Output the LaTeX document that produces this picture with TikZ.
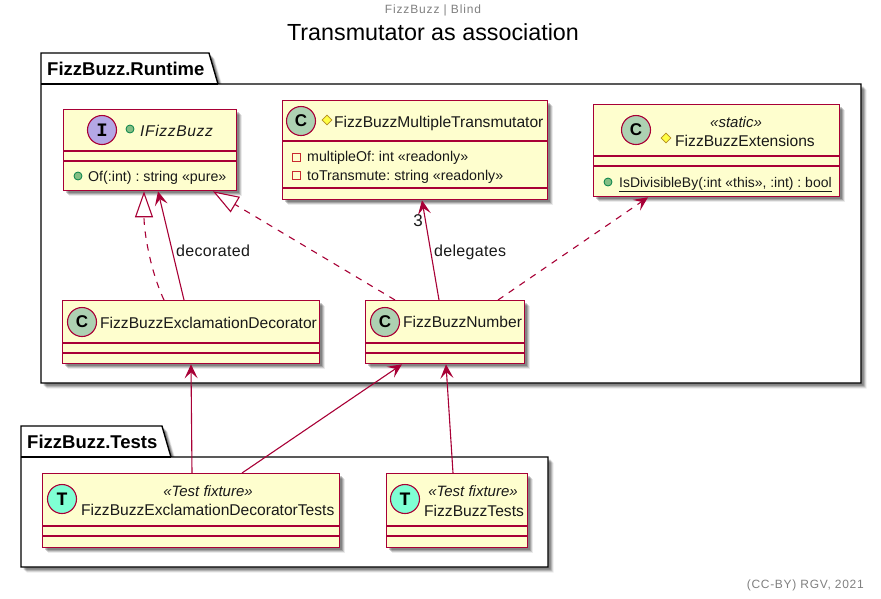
\documentclass[tikz,border=0pt]{standalone}
\usepackage{fontspec}
\setmainfont{Liberation Sans}
\newfontfamily\monof{Liberation Mono}
\usetikzlibrary{arrows.meta,shadows,calc,shapes.geometric}
\definecolor{umlred}{HTML}{A80036}
\definecolor{umlfill}{HTML}{FEFECE}
\definecolor{circC}{HTML}{ADD1B2}
\definecolor{circI}{HTML}{B4A7E5}
\definecolor{circT}{HTML}{7FFFD4}
\definecolor{dotgreen}{HTML}{84BE84}
\definecolor{dotdark}{HTML}{038048}
\definecolor{diamfill}{HTML}{FFFF44}
\definecolor{diamline}{HTML}{B38D22}
\definecolor{privred}{HTML}{C82930}
\frenchspacing
\tikzset{
  softshadow/.style={
    drop shadow={shadow xshift=2.5pt,shadow yshift=-2.5pt,fill=black,opacity=.2},
    drop shadow={shadow xshift=3.5pt,shadow yshift=-3.5pt,fill=black,opacity=.18},
    drop shadow={shadow xshift=4.5pt,shadow yshift=-4.5pt,fill=black,opacity=.14},
    drop shadow={shadow xshift=5.5pt,shadow yshift=-5.5pt,fill=black,opacity=.08}},
  classbox/.style={draw=umlred,fill=umlfill,line width=1.3pt,inner sep=0pt,softshadow},
  sepline/.style={draw=umlred,line width=1.3pt},
  circ/.style={circle,draw=umlred,line width=1.1pt,minimum size=29pt,inner sep=0pt},
  circletter/.style={font=\bfseries\fontsize{17}{17}\selectfont},
  circmono/.style={font=\monof\bfseries\fontsize{19}{19}\selectfont},
  capbox/.style={inner sep=0pt,text height=#1,text depth=0pt},
  txt/.style={capbox=11pt,anchor=west,text=black!90,font=\fontsize{15.6}{17}\selectfont},
  mem/.style={capbox=10pt,anchor=west,text=black!90,font=\fontsize{14.2}{16}\selectfont},
  st/.style={capbox=10pt,text=black!90,font=\itshape\fontsize{15}{17}\selectfont},
  lbl/.style={capbox=11.5pt,text=black!90,font=\fontsize{16}{18}\selectfont\addfontfeature{LetterSpace=2}},
  link/.style={draw=umlred,line width=1.1pt},
  linkd/.style={link,dash pattern=on 6.5pt off 6.5pt},
  opn/.style={-{Stealth[length=14pt,width=13pt,inset=6pt,fill=umlred]}},
  tri/.style={-{Triangle[open,length=26pt,width=18pt,fill=white]}},
  pack/.style={draw=black,fill=white,line width=1.4pt,softshadow},
  packtxt/.style={capbox=13pt,anchor=west,font=\bfseries\fontsize{18.5}{20}\selectfont},
  dot/.style={circle,draw=dotdark,fill=dotgreen,line width=.8pt,minimum size=8pt,inner sep=0pt},
  diam/.style={diamond,draw=diamline,fill=diamfill,line width=.8pt,minimum size=10pt,inner sep=0pt},
  sq/.style={rectangle,draw=privred,fill=none,line width=.9pt,minimum size=8pt,inner sep=0pt},
}
\newcommand{\cbox}[5]{% name, x1, y1, x2, y2
  \node[classbox,minimum width={#4-#2},minimum height={#5-#3},anchor=north west] (#1) at (#2,#3) {};}
\begin{document}
\begin{tikzpicture}[x=1pt,y=-1pt]
\useasboundingbox (0,0) rectangle (881,598);
% packages
\draw[pack] (41,84) -- (41,53) -- (209,53) -- (218,84) -- (861,84) -- (861,383) -- (41,383) -- cycle;
\draw[draw=black,line width=1.4pt] (41,84) -- (218,84);
\node[packtxt] (pkgrun) at (47,69) {FizzBuzz.Runtime};
\draw[pack] (21,457) -- (21,426) -- (162,426) -- (171,457) -- (548,457) -- (548,567) -- (21,567) -- cycle;
\draw[draw=black,line width=1.4pt] (21,457) -- (171,457);
\node[packtxt] (pkgtest) at (27,442) {FizzBuzz.Tests};
% titles
\node[capbox=8.5pt,text=gray,font=\fontsize{12}{14}\selectfont\addfontfeature{LetterSpace=7}] (hdr) at (433,9) {FizzBuzz | Blind};
\node[capbox=16.5pt,font=\fontsize{23.3}{26}\selectfont] (ttl) at (433,32.5) {Transmutator as association};
\node[capbox=8.5pt,anchor=east,text=gray,font=\fontsize{12}{14}\selectfont\addfontfeature{LetterSpace=6}] (ftr) at (864,584) {(CC-BY) RGV, 2021};
% IFizzBuzz
\cbox{ifb}{63}{109}{236}{190}
\draw[sepline] (63,151) -- (236,151) (63,161) -- (236,161);
\node[circ,fill=circI,circmono] (ifbc) at (102,130) {I};
\node[dot] (ifbd) at (130,129) {};
\node[txt,font=\itshape\fontsize{15.6}{17}\selectfont\addfontfeature{LetterSpace=4}] (ifbt) at (140,131) {IFizzBuzz};
\node[dot] (ifbmd) at (78,176) {};
\node[mem] (ifbm) at (88,176.5) {Of(:int) : string «pure»};
% Multiple
\cbox{mul}{282}{100}{547}{199}
\draw[sepline] (282,141) -- (547,141) (282,188) -- (547,188);
\node[circ,fill=circC,circletter] (mulc) at (301,121) {C};
\node[diam] (muld) at (327,120) {};
\node[txt] (mult) at (334,122) {FizzBuzzMultipleTransmutator};
\node[sq] (mulq1) at (296,157) {};
\node[mem] (mulm1) at (307,156.7) {multipleOf: int «readonly»};
\node[sq] (mulq2) at (296,175) {};
\node[mem] (mulm2) at (307,175) {toTransmute: string «readonly»};
% Extensions
\cbox{ext}{593}{104}{839}{196}
\draw[sepline] (593,156) -- (839,156) (593,166) -- (839,166);
\node[circ,fill=circC,circletter] (extc) at (636,130) {C};
\node[st] (exts) at (736,122) {«static»};
\node[diam] (extd) at (666,138) {};
\node[txt] (extt) at (675,141) {FizzBuzzExtensions};
\node[dot] (extmd) at (608,182) {};
\node[mem,font=\fontsize{13.95}{16}\selectfont] (extm) at (619,182) {\underline{IsDivisibleBy(:int «this», :int) : bool}};
% Decorator
\cbox{deco}{62}{300}{319}{363}
\draw[sepline] (62,343) -- (319,343) (62,353) -- (319,353);
\node[circ,fill=circC,circletter] (decoc) at (82,322) {C};
\node[txt] (decot) at (100,322.5) {FizzBuzzExclamationDecorator};
% Number
\cbox{num}{365}{300}{524}{363}
\draw[sepline] (365,343) -- (524,343) (365,353) -- (524,353);
\node[circ,fill=circC,circletter] (numc) at (385,322) {C};
\node[txt] (numt) at (403,322) {FizzBuzzNumber};
% Test decorator
\cbox{tdeco}{42}{473}{339}{547}
\draw[sepline] (42,526) -- (339,526) (42,536) -- (339,536);
\node[circ,fill=circT,circmono] (tdecoc) at (62,499) {T};
\node[st] (tdecos) at (208,491) {«Test fixture»};
\node[txt] (tdecot) at (81,510) {FizzBuzzExclamationDecoratorTests};
% Tests
\cbox{tst}{386}{473}{527}{547}
\draw[sepline] (386,526) -- (527,526) (386,536) -- (527,536);
\node[circ,fill=circT,circmono] (tstc) at (405,499) {T};
\node[st] (tsts) at (473,491) {«Test fixture»};
\node[txt] (tstt) at (424,510.5) {FizzBuzzTests};
% connectors
\draw[link,opn] ([xshift=122pt]deco.north west) -- ([xshift=95pt]ifb.south west);
\draw[linkd,tri] ([xshift=102pt]deco.north west) .. controls +(-14,-30) and +(0,40) .. ([xshift=81pt]ifb.south west);
\draw[linkd,tri] ([xshift=30pt]num.north west) -- ([xshift=150pt]ifb.south west);
\draw[link,opn] ([xshift=74pt]num.north west) -- ([xshift=140pt]mul.south west);
\draw[linkd,opn] ([xshift=133pt]num.north west) -- ([xshift=55pt]ext.south west);
\draw[link,opn] ([xshift=150pt]tdeco.north west) -- ([xshift=129pt]deco.south west);
\draw[link,opn] ([xshift=200pt]tdeco.north west) -- ([xshift=37pt]num.south west);
\draw[link,opn] ([xshift=67pt]tst.north west) -- ([xshift=81pt]num.south west);
\node[lbl,anchor=west] (ldec) at (176,251) {decorated};
\node[lbl,anchor=west] (ldel) at (434,251) {delegates};
\node[capbox=12.5pt,text=black!90,font=\fontsize{17}{19}\selectfont] (lthree) at (418,220) {3};
\end{tikzpicture}
\end{document}
